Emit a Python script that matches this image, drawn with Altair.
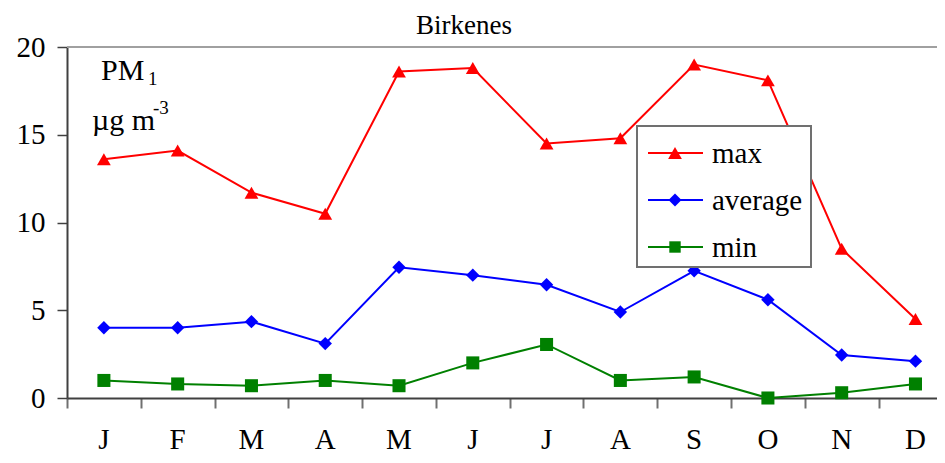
import altair as alt
import pandas as pd

months = ["J", "F", "M", "A", "M", "J", "J", "A", "S", "O", "N", "D"]
series_names = ["max", "average", "min"]
max_vals = [13.6, 14.1, 11.7, 10.5, 18.6, 18.8, 14.5, 14.8, 19.0, 18.1, 8.5, 4.5]
avg_vals = [4.0, 4.0, 4.35, 3.1, 7.45, 7.0, 6.45, 4.9, 7.25, 5.6, 2.45, 2.1]
min_vals = [1.0, 0.8, 0.7, 1.0, 0.7, 2.0, 3.05, 1.0, 1.2, 0.0, 0.3, 0.8]
colors = ["#ff0000", "#0000ff", "#008000"]
shapes = ["triangle-up", "diamond", "square"]
sizes = [190, 170, 130]
y_ticks = [0, 5, 10, 15, 20]

FONT = "Liberation Serif"
STEP = 73.78
W, H = 870, 351
XMAX = W / STEP

rows = []
for name, vals in zip(series_names, [max_vals, avg_vals, min_vals]):
    for i, v in enumerate(vals):
        rows.append({"series": name, "pos": i + 0.5, "month": months[i], "value": v, "idx": i})
df = pd.DataFrame(rows)
mdf = pd.DataFrame({"pos": [i + 0.5 for i in range(12)], "month": months})

xscale = alt.Scale(domain=[0, XMAX], nice=False, zero=False)
yscale = alt.Scale(domain=[0, 20], nice=False)
cscale = alt.Scale(domain=series_names, range=colors)
sscale = alt.Scale(domain=series_names, range=shapes)

xenc = alt.X("pos:Q", scale=xscale,
             axis=alt.Axis(title="", values=list(range(12)), labels=False, grid=False,
                           tickSize=10, tickColor="#707070", tickWidth=2,
                           domainColor="#404040", domainWidth=2))
yenc = alt.Y("value:Q", scale=yscale,
             axis=alt.Axis(title="", values=y_ticks, grid=False, tickSize=10,
                           tickColor="#404040", tickWidth=1.5, domainColor="#404040",
                           domainWidth=2, labelFont=FONT, labelFontSize=29,
                           labelColor="black", labelPadding=12))

base = alt.Chart(df)
lines = base.mark_line(strokeWidth=2).encode(
    x=xenc, y=yenc,
    color=alt.Color("series:N", scale=cscale, legend=None),
    detail="series:N")
points = base.mark_point(filled=True, opacity=1).encode(
    x="pos:Q", y="value:Q",
    color=alt.Color("series:N", scale=cscale, legend=None),
    shape=alt.Shape("series:N", scale=sscale, legend=None),
    size=alt.Size("series:N", scale=alt.Scale(domain=series_names, range=sizes), legend=None))

month_labels = alt.Chart(mdf).mark_text(font=FONT, fontSize=29, baseline="middle", color="black").encode(
    x="pos:Q", y=alt.value(H + 42), text="month:N")

top_line = alt.Chart(pd.DataFrame({"a": [0]})).mark_rule(color="#a0a0a0", strokeWidth=2).encode(
    x=alt.value(0), x2=alt.value(W), y=alt.value(0))

def txt(t, x, y, size, align="left"):
    return alt.Chart(pd.DataFrame({"t": [t]})).mark_text(
        font=FONT, fontSize=size, align=align, baseline="alphabetic", color="black"
    ).encode(text="t:N", x=alt.value(x), y=alt.value(y))

title = txt("Birkenes", 397, -13, 27, align="center")
pm = txt("PM", 34, 33, 30)
pm_sub = txt("1", 81, 38, 19)
unit = txt("µg m", 25, 83, 30)
unit_sup = txt("-3", 86, 67, 19)

legend_box = alt.Chart(pd.DataFrame({"a": [0]})).mark_rect(
    fill="white", stroke="#707070", strokeWidth=2).encode(
    x=alt.value(570), x2=alt.value(744), y=alt.value(79), y2=alt.value(220))

legend_layers = [legend_box]
for i, name in enumerate(series_names):
    ly = 106 + 47 * i
    one = pd.DataFrame({"t": [name]})
    legend_layers.append(alt.Chart(one).mark_rule(color=colors[i], strokeWidth=2).encode(
        x=alt.value(581), x2=alt.value(636), y=alt.value(ly)))
    legend_layers.append(alt.Chart(one).mark_point(filled=True, opacity=1, shape=shapes[i],
                                                   size=sizes[i], color=colors[i]).encode(
        x=alt.value(608), y=alt.value(ly)))
    legend_layers.append(alt.Chart(one).mark_text(font=FONT, fontSize=29, align="left",
                                                  baseline="middle", color="black").encode(
        text="t:N", x=alt.value(645), y=alt.value(ly + 1)))

chart = alt.layer(top_line, lines, points, month_labels, title, pm, pm_sub, unit, unit_sup,
                  *legend_layers).properties(
    width=W, height=H,
    autosize=alt.AutoSizeParams(type="none"),
    padding={"left": 59, "top": 39, "right": 0, "bottom": 57},
    background="white",
).configure(font=FONT).configure_view(strokeWidth=0)

chart.save("out.html", embed_options={"renderer": "svg", "actions": False})
